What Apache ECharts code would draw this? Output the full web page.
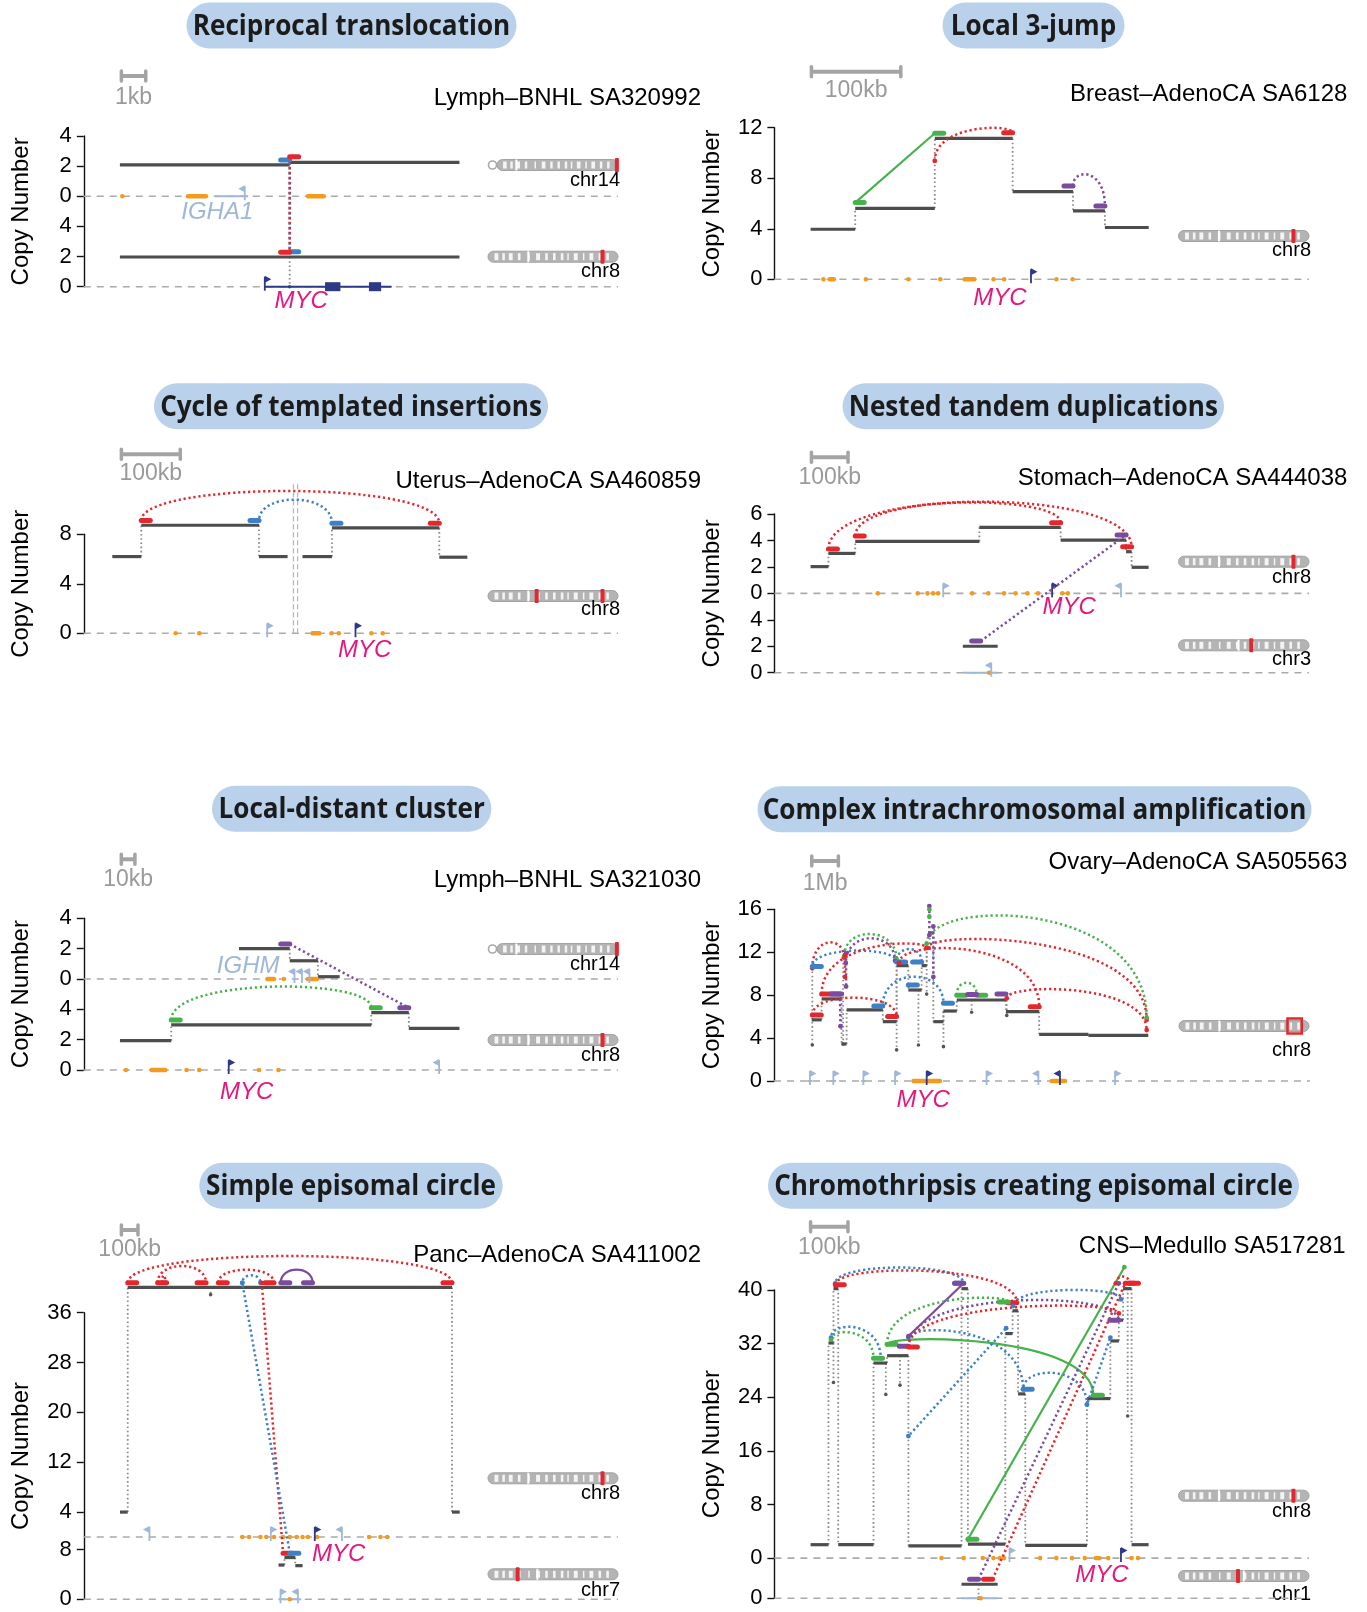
<!DOCTYPE html>
<html>
<head>
<meta charset="utf-8">
<script src="https://cdn.jsdelivr.net/npm/echarts@6/dist/echarts.min.js"></script>
<style>
html,body{margin:0;padding:0;background:#fff}
#chart{width:1367px;height:1612px}
</style>
</head>
<body>
<div id="chart"></div>
<script>
// ---------------- data ----------------
// Each row: [track, start, end, copy number]; positions in kb (Mb for the amplification panel).
// Links: [trackA, posA, cnA, sideA, trackB, posB, cnB, sideB, arcPeakCN | null, junction type]

// Reciprocal translocation (kb)
const recipSegments = [['chr14', 1.48, 8.44, 2.08], ['chr14', 8.44, 15.40, 2.25], ['chr8', 1.48, 15.40, 1.97]];
const recipLinks = [
  ['chr14', 8.44, 2.40, -1, 'chr8', 8.44, 2.32, 1, null, 'DEL'],
  ['chr14', 8.44, 2.63, 1, 'chr8', 8.44, 2.28, -1, null, 'DUP']
];
const recipDrops = [['chr8', 8.44, 1.97, 0]];
const recipMarks = [['chr14', 1.58, 1.58], ['chr14', 4.27, 5.01], ['chr14', 9.19, 9.84]];
const recipBodies = [['chr14', 5.38, 6.74, 'light'], ['chr8', 7.42, 12.62, 'navy']];
const recipExons = [['chr8', 9.89, 10.52], ['chr8', 11.69, 12.19]];
const recipTss = [['chr14', 6.6, -1, 'light'], ['chr8', 7.42, 1, 'navy']];
const recipGenes = [['chr14', 5.47, 'IGHA1'], ['chr8', 8.91, 'MYC']];
const recipScale = [1.54, 1, '1kb'];
const recipIdeoMarks = {chr14: [106], chr8: [127.7]};

// Local 3-jump (kb)
const jumpSegments = [['chr8', 40.5, 90.4, 3.96], ['chr8', 90.4, 179.4, 5.62], ['chr8', 179.4, 266.5, 11.15],
  ['chr8', 266.5, 334.0, 6.94], ['chr8', 334.0, 369.7, 5.41], ['chr8', 369.7, 418.7, 4.10]];
const jumpLinks = [
  ['chr8', 90.4, 6.07, 1, 'chr8', 179.4, 11.56, 1, null, 'H2H'],
  ['chr8', 179.4, 9.37, 0, 'chr8', 266.5, 11.6, -1, 11.85, 'DUP'],
  ['chr8', 334.0, 7.39, -1, 'chr8', 369.7, 5.8, -1, 8.26, 'T2T']
];
const jumpMarks = [['chr8', 54.8, 54.8], ['chr8', 61.9, 66.6], ['chr8', 102.3, 102.3], ['chr8', 149.9, 149.9],
  ['chr8', 185.6, 185.6], ['chr8', 212.7, 223.7], ['chr8', 245.1, 245.1], ['chr8', 257, 257],
  ['chr8', 315.5, 315.5], ['chr8', 333.6, 333.6]];
const jumpTss = [['chr8', 287, 1, 'navy']];
const jumpGenes = [['chr8', 252.2, 'MYC']];
const jumpScale = [41.4, 100, '100kb'];
const jumpIdeoMarks = {chr8: [127.7]};

// Cycle of templated insertions (kb)
const cycleSegments = [['chr8', 48.4, 97.6, 6.2], ['chr8', 97.6, 297.5, 8.73], ['chr8', 297.5, 346.0, 6.2],
  ['chr8', 371.3, 421.3, 6.2], ['chr8', 421.3, 603.6, 8.52], ['chr8', 603.6, 651.2, 6.15]];
const cycleLinks = [
  ['chr8', 97.6, 9.11, 1, 'chr8', 603.6, 8.9, -1, 11.5, 'DUP'],
  ['chr8', 297.5, 9.11, -1, 'chr8', 421.3, 8.9, 1, 10.8, 'DEL']
];
const cycleGuides = [356, 363];
const cycleMarks = [['chr8', 156, 156], ['chr8', 196, 196], ['chr8', 388.3, 399.8], ['chr8', 420.6, 420.6],
  ['chr8', 432.9, 432.9], ['chr8', 488.2, 488.2], ['chr8', 507.5, 507.5]];
const cycleTss = [['chr8', 311.4, 1, 'light'], ['chr8', 461.3, 1, 'navy']];
const cycleGenes = [['chr8', 476.7, 'MYC']];
const cycleScale = [63.8, 100, '100kb'];
const cycleIdeoMarks = {chr8: [54.3, 127.7]};

// Nested tandem duplications (kb)
const nestedSegments = [['chr8', 98.9, 147.7, 2.02], ['chr8', 147.7, 220.9, 3.02], ['chr8', 220.9, 560.2, 3.93],
  ['chr8', 560.2, 782.2, 4.99], ['chr8', 782.2, 961.1, 4.03], ['chr8', 961.1, 976.2, 3.15],
  ['chr8', 976.2, 1022.7, 1.97], ['chr3', 514.9, 610.2, 2.0]];
const nestedLinks = [
  ['chr8', 147.7, 3.35, 1, 'chr8', 976.2, 3.53, -1, 6.93, 'DUP'],
  ['chr8', 220.9, 4.34, 1, 'chr8', 782.2, 5.34, -1, 6.86, 'DUP'],
  ['chr3', 563.7, 2.39, -1, 'chr8', 961.1, 4.41, -1, null, 'T2T']
];
const nestedMarks = [['chr8', 282.5, 282.5], ['chr8', 391.7, 391.7], ['chr8', 418.4, 418.4], ['chr8', 433.5, 433.5],
  ['chr8', 447.5, 447.5], ['chr8', 540.5, 540.5], ['chr8', 584.6, 584.6], ['chr8', 627.6, 627.6],
  ['chr8', 659, 659], ['chr8', 691.5, 691.5], ['chr8', 720.6, 720.6], ['chr8', 786.8, 786.8],
  ['chr8', 802, 802], ['chr3', 587, 587]];
const nestedBodies = [['chr3', 514.9, 610.2, 'light']];
const nestedTss = [['chr8', 461.4, 1, 'light'], ['chr8', 947.2, -1, 'light'], ['chr8', 759, 1, 'navy'], ['chr3', 592.7, -1, 'light']];
const nestedGenes = [['chr8', 805.4, 'MYC']];
const nestedScale = [101.2, 100, '100kb'];
const nestedIdeoMarks = {chr8: [127.7], chr3: [110.4]};

// Local-distant cluster (kb)
const clusterSegments = [['chr14', 114.2, 151.5, 2.0], ['chr14', 151.5, 172.2, 1.2], ['chr14', 172.2, 188.2, 0.15],
  ['chr8', 26.6, 64.3, 1.93], ['chr8', 64.3, 211.5, 2.97], ['chr8', 211.5, 239.1, 3.78], ['chr8', 239.1, 276.4, 2.75]];
const clusterLinks = [
  ['chr14', 151.5, 2.3, -1, 'chr8', 239.1, 4.1, -1, null, 'T2T'],
  ['chr8', 64.3, 3.3, 1, 'chr8', 211.5, 4.1, 1, 5.49, 'H2H']
];
const clusterMarks = [['chr14', 135, 140], ['chr14', 147.2, 147.2], ['chr14', 164.8, 171.5],
  ['chr8', 31, 31], ['chr8', 49.9, 59.9], ['chr8', 75.6, 75.6], ['chr8', 84.9, 84.9], ['chr8', 128.9, 128.9], ['chr8', 143.2, 143.2]];
const clusterTss = [['chr14', 155, -1, 'light'], ['chr14', 160.5, -1, 'light'], ['chr14', 166, -1, 'light'],
  ['chr8', 106.6, 1, 'navy'], ['chr8', 261.4, -1, 'light']];
const clusterGenes = [['chr14', 120.9, 'IGHM'], ['chr8', 119.9, 'MYC']];
const clusterScale = [27.6, 10, '10kb'];
const clusterIdeoMarks = {chr14: [106], chr8: [127.7]};

// Complex intrachromosomal amplification (Mb)
const complexSegments = [['chr8', 1.42, 1.79, 5.7], ['chr8', 1.79, 2.54, 7.65], ['chr8', 2.54, 2.73, 3.45],
  ['chr8', 2.73, 4.09, 6.62], ['chr8', 4.09, 4.61, 5.53], ['chr8', 4.61, 5.05, 10.75], ['chr8', 5.05, 5.55, 8.48],
  ['chr8', 5.55, 5.74, 10.75], ['chr8', 5.74, 5.86, 12.4], ['chr8', 5.86, 5.99, 13.8], ['chr8', 5.99, 6.37, 5.53],
  ['chr8', 6.37, 6.87, 6.52], ['chr8', 6.87, 8.72, 7.55], ['chr8', 8.72, 9.97, 6.46], ['chr8', 9.97, 11.82, 4.35],
  ['chr8', 11.82, 14.07, 4.26]];
const complexLinks = [
  ['chr8', 1.44, 10.5, 0, 'chr8', 2.63, 11.5, 0, 12.9, 'DUP'],
  ['chr8', 1.44, 10.66, 1, 'chr8', 4.61, 11.1, 0, 12.15, 'DEL'],
  ['chr8', 2.65, 11.7, 0, 'chr8', 4.61, 11.3, 0, 13.7, 'H2H'],
  ['chr8', 2.70, 11.0, 0, 'chr8', 4.55, 11.2, 0, 13.3, 'T2T'],
  ['chr8', 1.79, 8.1, 1, 'chr8', 5.74, 12.4, 0, 12.5, 'DUP'],
  ['chr8', 1.44, 6.15, 1, 'chr8', 4.61, 6.0, -1, 7.77, 'DUP'],
  ['chr8', 4.09, 7.0, -1, 'chr8', 6.37, 7.24, 1, 9.72, 'DEL'],
  ['chr8', 4.61, 11.1, 1, 'chr8', 5.55, 11.1, -1, 12.3, 'DEL'],
  ['chr8', 4.70, 11.0, 0, 'chr8', 9.97, 6.93, -1, 12.2, 'DUP'],
  ['chr8', 5.74, 12.4, 0, 'chr8', 14.01, 5.7, 0, 12.77, 'DUP'],
  ['chr8', 8.75, 7.7, 0, 'chr8', 14.01, 4.75, 0, 8.42, 'DUP'],
  ['chr8', 5.74, 12.8, 0, 'chr8', 14.01, 5.9, 0, 15.13, 'H2H'],
  ['chr8', 6.87, 8.0, 1, 'chr8', 7.62, 8.0, 1, 9.16, 'H2H'],
  ['chr8', 2.48, 8.1, -1, 'chr8', 2.50, 5.1, 0, null, 'T2T'],
  ['chr8', 2.71, 11.9, 0, 'chr8', 2.71, 8.8, 0, null, 'T2T'],
  ['chr8', 2.67, 11.7, 0, 'chr8', 2.67, 9.7, 0, null, 'DUP'],
  ['chr8', 5.84, 16.3, 0, 'chr8', 5.84, 13.6, 0, null, 'T2T'],
  ['chr8', 5.99, 14.4, 0, 'chr8', 5.99, 9.7, 0, null, 'T2T'],
  ['chr8', 5.84, 16.0, 0, 'chr8', 5.84, 15.3, 0, null, 'H2H']
];
const complexLone = [['chr8', 7.62, 8.05, -1, 'T2T'], ['chr8', 8.72, 8.1, -1, 'T2T'],
  ['chr8', 5.05, 8.95, 1, 'DEL'], ['chr8', 2.54, 8.1, -1, 'T2T']];
const complexDrops = [['chr8', 1.44, 10.6, 3.35], ['chr8', 2.6, 11.0, 3.45], ['chr8', 4.61, 10.75, 2.9],
  ['chr8', 5.43, 8.48, 3.35], ['chr8', 6.37, 6.52, 3.2], ['chr8', 7.43, 7.55, 6.4], ['chr8', 8.75, 7.55, 6.1],
  ['chr8', 5.74, 12.4, 8.1]];
const complexMarks = [['chr8', 5.24, 6.24], ['chr8', 10.44, 10.94]];
const complexBodies = [['chr8', 1.25, 1.45, 'light'], ['chr8', 2.12, 2.33, 'light'], ['chr8', 3.28, 3.45, 'light'],
  ['chr8', 7.85, 8.1, 'light'], ['chr8', 9.82, 10.05, 'light'], ['chr8', 12.72, 12.9, 'light']];
const complexTss = [['chr8', 1.35, 1, 'light'], ['chr8', 2.23, 1, 'light'], ['chr8', 3.36, 1, 'light'],
  ['chr8', 4.55, 1, 'light'], ['chr8', 7.99, 1, 'light'], ['chr8', 9.94, -1, 'light'], ['chr8', 12.82, 1, 'light'],
  ['chr8', 5.74, 1, 'navy'], ['chr8', 10.75, -1, 'navy']];
const complexGenes = [['chr8', 5.61, 'MYC']];
const complexScale = [1.42, 1, '1Mb'];
const complexIdeoBox = {chr8: [121, 137]};

// Simple episomal circle (kb)
const episomeSegments = [['chr8', 218.2, 264.6, 4.0], ['chr8', 264.6, 2218, 40.05], ['chr8', 2218, 2264.4, 4.0],
  ['chr7', 1173, 1208.5, 5.5], ['chr7', 1208.5, 1274, 6.7], ['chr7', 1274, 1318, 5.4]];
const episomeLinks = [
  ['chr8', 264.6, 40.8, 1, 'chr8', 2218, 40.8, -1, 45.1, 'DUP'],
  ['chr8', 444.6, 40.8, 1, 'chr8', 736.6, 40.8, -1, 43.5, 'DUP'],
  ['chr8', 472, 40.8, 0, 'chr8', 491, 40.8, 0, 42.0, 'DUP'],
  ['chr8', 810.2, 40.8, 1, 'chr8', 1145.8, 40.8, -1, 42.9, 'DUP'],
  ['chr8', 954.8, 40.8, 0, 'chr8', 1064, 40.8, 0, 42.0, 'DEL'],
  ['chr8', 1186.8, 40.8, 1, 'chr8', 1377.7, 40.8, -1, 42.9, 'T2T'],
  ['chr8', 1072, 40.8, 0, 'chr7', 1200.4, 7.4, 1, null, 'DUP'],
  ['chr8', 954.8, 40.8, 0, 'chr7', 1241.3, 7.4, 1, null, 'DEL']
];
const episomeDrops = [['chr8', 763.9, 40.05, 38.9]];
const episomeMarks = [['chr8', 954.8, 954.8], ['chr8', 995.8, 995.8], ['chr8', 1064, 1064], ['chr8', 1099.4, 1099.4],
  ['chr8', 1145.8, 1145.8], ['chr8', 1200.4, 1200.4], ['chr8', 1241.3, 1241.3], ['chr8', 1282.3, 1282.3],
  ['chr8', 1317.7, 1317.7], ['chr8', 1350.4, 1350.4], ['chr8', 1405, 1405], ['chr8', 1718.8, 1718.8],
  ['chr8', 1787, 1787], ['chr8', 1827.9, 1827.9], ['chr7', 1241.3, 1241.3]];
const episomeBodies = [['chr7', 1173, 1310, 'light']];
const episomeTss = [['chr8', 395.5, -1, 'light'], ['chr8', 1126.7, 1, 'light'], ['chr8', 1555, -1, 'light'],
  ['chr8', 1391.4, 1, 'navy'], ['chr7', 1185, 1, 'light'], ['chr7', 1290, -1, 'light']];
const episomeGenes = [['chr8', 1536, 'MYC']];
const episomeScale = [226.4, 100, '100kb'];
const episomeIdeoMarks = {chr8: [127.7], chr7: [36.3]};

// Chromothripsis creating episomal circle (kb)
const chromoSegments = [['chr8', 96.8, 144.6, 2.0], ['chr8', 144.6, 158, 32.1], ['chr8', 158, 170.7, 40.2],
  ['chr8', 170.7, 265.1, 2.0], ['chr8', 265.1, 301.5, 29.1], ['chr8', 301.5, 358.4, 30.2],
  ['chr8', 358.4, 500.5, 1.83], ['chr8', 500.5, 517.6, 40.2], ['chr8', 517.6, 617.7, 2.08],
  ['chr8', 617.7, 637, 33.5], ['chr8', 637, 651.8, 36.9], ['chr8', 651.8, 671.1, 24.5],
  ['chr8', 671.1, 836, 1.9], ['chr8', 836, 898.6, 23.8], ['chr8', 898.6, 921.3, 32.4],
  ['chr8', 921.3, 932.7, 35.5], ['chr8', 932.7, 955.4, 40.2], ['chr8', 955.4, 1000.9, 2.0],
  ['chr1', 500.5, 597.2, 2.1]];
const chromoLinks = [
  ['chr8', 162.8, 41.0, 0, 'chr8', 506.2, 41.0, -1, 43.35, 'DEL'],
  ['chr8', 162.8, 40.8, 1, 'chr8', 648.4, 38.1, -1, 42.85, 'DUP'],
  ['chr8', 151.4, 32.9, 0, 'chr8', 284.4, 29.8, 0, 34.4, 'DEL'],
  ['chr8', 151.4, 32.6, 0, 'chr8', 265.1, 29.8, 1, 33.6, 'H2H'],
  ['chr8', 358.4, 32.9, 0, 'chr8', 665.4, 25.2, 1, 33.5, 'DEL'],
  ['chr8', 665.4, 25.2, 0, 'chr8', 836, 22.9, 0, 27.6, 'DEL'],
  ['chr8', 301.5, 31.9, 1, 'chr8', 853.1, 24.3, 1, 32.1, 'H2H'],
  ['chr8', 358.4, 33.1, 0, 'chr8', 506.2, 41.0, -1, null, 'T2T'],
  ['chr8', 301.5, 31.9, 0, 'chr8', 625.6, 38.2, -1, 38.4, 'H2H'],
  ['chr8', 358.4, 31.6, -1, 'chr8', 921.3, 35.5, -1, 38.4, 'T2T'],
  ['chr8', 358.4, 31.5, 1, 'chr8', 921.3, 36.5, 0, 37.4, 'DUP'],
  ['chr8', 358.4, 18.2, 0, 'chr8', 619.9, 34.3, 0, null, 'DEL'],
  ['chr8', 638.1, 37.6, 0, 'chr8', 927, 38.6, 0, 40.0, 'DEL'],
  ['chr8', 836, 22.9, 0, 'chr8', 898.6, 32.9, 0, null, 'DEL'],
  ['chr8', 517.6, 2.8, 1, 'chr8', 936.1, 43.4, 0, null, 'H2H'],
  ['chr1', 546, 2.84, -1, 'chr8', 921.3, 41.0, 0, null, 'T2T'],
  ['chr1', 583.5, 2.84, -1, 'chr8', 938.4, 41.0, 1, null, 'DUP'],
  ['chr8', 913.4, 41.0, 0, 'chr8', 949.7, 41.0, 1, 42.0, 'DUP']
];
const chromoDrops = [['chr8', 158, 32.1, 26.2], ['chr8', 298, 29.1, 24.4], ['chr8', 336, 30.2, 25.8],
  ['chr8', 945, 40.2, 21.2], ['chr1', 546, 2.1, 0]];
const chromoMarks = [['chr8', 447, 447], ['chr8', 506.2, 506.2], ['chr8', 557.4, 557.4], ['chr8', 585.8, 585.8],
  ['chr8', 602.9, 602.9], ['chr8', 614.3, 614.3], ['chr8', 710.9, 710.9], ['chr8', 754.1, 754.1],
  ['chr8', 796.2, 796.2], ['chr8', 830.3, 830.3], ['chr8', 858.8, 870.2], ['chr8', 892.9, 892.9],
  ['chr8', 955.4, 955.4], ['chr8', 972.5, 972.5], ['chr1', 551.7, 551.7]];
const chromoBodies = [['chr1', 500.5, 597.2, 'light']];
const chromoTss = [['chr8', 629, 1, 'light'], ['chr8', 927, 1, 'navy']];
const chromoGenes = [['chr8', 875.8, 'MYC']];
const chromoScale = [96.8, 100, '100kb'];
const chromoIdeoMarks = {chr8: [127.7], chr1: [113.5]};

// ---------------- styling ----------------
const SV_COLORS = {DUP: '#e3272c', DEL: '#3d80c6', H2H: '#47b24b', T2T: '#7a4b9e'};
const GENE_COLORS = {navy: '#2d3886', light: '#9fb7d9'};
const MARK_COLOR = '#f39b1f';
const FONT = '"Liberation Sans", Arial, sans-serif';
const CHROM_MB = {chr1: 249, chr3: 198, chr7: 159, chr8: 145, chr14: 107};
const CENTRO = {chr1: 0.5, chr3: 0.46, chr7: 0.38, chr8: 0.31, chr14: 0.16};
const BANDS = [[.05, .08], [.11, .13], [.16, .19], [.23, .25], [.31, .32], [.37, .40], [.44, .46], [.50, .52],
  [.56, .58], [.61, .62], [.66, .69], [.73, .74], [.78, .81], [.85, .87], [.91, .93]];

const panels = [
  {title: 'Reciprocal translocation', pill: [351.5, 25.5, 330], sample: 'Lymph–BNHL SA320992', sampleAt: [701, 98],
   grid: {left: 83.8, top: 136, width: 534.2, height: 150.7}, xMax: 21.9, yMax: 10,
   ticks: [0, 2, 4, 6, 8, 10], tickText: ['0', '2', '4', '0', '2', '4'], tracks: {chr14: 6, chr8: 0},
   segments: recipSegments, links: recipLinks, drops: recipDrops, marks: recipMarks, bodies: recipBodies,
   exons: recipExons, tss: recipTss, genes: recipGenes, labelDy: {IGHA1: 16, MYC: 15},
   scale: recipScale, scaleY: [76, 97.3], solid: [],
   ideograms: [['chr14', 488, 618, 165, 180], ['chr8', 488, 618, 256.7, 271.7]], ideoMarks: recipIdeoMarks},
  {title: 'Local 3-jump', pill: [1033.5, 25.5, 182], sample: 'Breast–AdenoCA SA6128', sampleAt: [1347.4, 94],
   grid: {left: 774.4, top: 127.7, width: 534.6, height: 151.6}, xMax: 598, yMax: 12,
   ticks: [0, 4, 8, 12], tickText: ['0', '4', '8', '12'], tracks: {chr8: 0},
   segments: jumpSegments, links: jumpLinks, marks: jumpMarks, tss: jumpTss, genes: jumpGenes, labelDy: {MYC: 19},
   scale: jumpScale, scaleY: [71.7, 90.7], solid: [0],
   ideograms: [['chr8', 1178.5, 1309, 236, 250.7]], ideoMarks: jumpIdeoMarks},
  {title: 'Cycle of templated insertions', pill: [351, 406.3, 394], sample: 'Uterus–AdenoCA SA460859', sampleAt: [701, 481.7],
   grid: {left: 83.8, top: 534.3, width: 534.2, height: 99}, xMax: 907, yMax: 8,
   ticks: [0, 4, 8], tickText: ['0', '4', '8'], tracks: {chr8: 0}, guides: cycleGuides, guideTop: 12.1,
   segments: cycleSegments, links: cycleLinks, marks: cycleMarks, tss: cycleTss, genes: cycleGenes, labelDy: {MYC: 17},
   scale: cycleScale, scaleY: [454.3, 473.3], solid: [],
   ideograms: [['chr8', 488, 618, 596, 609.3]], ideoMarks: cycleIdeoMarks},
  {title: 'Nested tandem duplications', pill: [1033.3, 406.3, 381.5], sample: 'Stomach–AdenoCA SA444038', sampleAt: [1347.4, 478.3],
   grid: {left: 774.4, top: 514, width: 534.6, height: 158.7}, xMax: 1461, yMax: 12,
   ticks: [0, 2, 4, 6, 8, 10, 12], tickText: ['0', '2', '4', '0', '2', '4', '6'], tracks: {chr8: 6, chr3: 0},
   segments: nestedSegments, links: nestedLinks, marks: nestedMarks, bodies: nestedBodies, tss: nestedTss,
   genes: nestedGenes, labelDy: {MYC: 14}, scale: nestedScale, scaleY: [457.3, 477.3], solid: [],
   ideograms: [['chr8', 1178.5, 1309, 561.7, 577.3], ['chr3', 1178.5, 1309, 645.3, 659.3]], ideoMarks: nestedIdeoMarks},
  {title: 'Local-distant cluster', pill: [351.7, 808.8, 279.4], sample: 'Lymph–BNHL SA321030', sampleAt: [701, 880],
   grid: {left: 83.8, top: 918.3, width: 534.2, height: 151.7}, xMax: 393, yMax: 10,
   ticks: [0, 2, 4, 6, 8, 10], tickText: ['0', '2', '4', '0', '2', '4'], tracks: {chr14: 6, chr8: 0},
   segments: clusterSegments, links: clusterLinks, marks: clusterMarks, tss: clusterTss, genes: clusterGenes,
   labelDy: {MYC: 22, IGHM: -13}, scale: clusterScale, scaleY: [859.3, 879.3], solid: [],
   ideograms: [['chr14', 488, 618, 949, 964], ['chr8', 488, 618, 1040, 1055]], ideoMarks: clusterIdeoMarks},
  {title: 'Complex intrachromosomal amplification', pill: [1034.5, 809.3, 554], sample: 'Ovary–AdenoCA SA505563', sampleAt: [1347.4, 862],
   grid: {left: 774, top: 909.3, width: 536, height: 171.7}, xMax: 20.15, yMax: 16,
   ticks: [0, 4, 8, 12, 16], tickText: ['0', '4', '8', '12', '16'], tracks: {chr8: 0},
   segments: complexSegments, links: complexLinks, lone: complexLone, drops: complexDrops, marks: complexMarks,
   bodies: complexBodies, tss: complexTss, genes: complexGenes, labelDy: {MYC: 19},
   scale: complexScale, scaleY: [861, 883.3], solid: [],
   ideograms: [['chr8', 1179, 1309, 1026, 1050]], ideoMarks: {}, ideoBoxes: complexIdeoBox},
  {title: 'Simple episomal circle', pill: [351, 1185.8, 303.4], sample: 'Panc–AdenoCA SA411002', sampleAt: [701, 1255],
   grid: {left: 83.8, top: 1312.7, width: 534.2, height: 286.6}, xMax: 3218, yMax: 46,
   ticks: [0, 8, 14, 22, 30, 38, 46], tickText: ['0', '8', '4', '12', '20', '28', '36'], tracks: {chr8: 10, chr7: 0},
   segments: episomeSegments, links: episomeLinks, drops: episomeDrops, marks: episomeMarks, bodies: episomeBodies,
   tss: episomeTss, genes: episomeGenes, labelDy: {MYC: 17}, scale: episomeScale, scaleY: [1230, 1250], solid: [5],
   ideograms: [['chr8', 488, 618, 1478.3, 1493.3], ['chr7', 488, 618, 1574.3, 1590]], ideoMarks: episomeIdeoMarks},
  {title: 'Chromothripsis creating episomal circle', pill: [1033.5, 1185.8, 531], sample: 'CNS–Medullo SA517281', sampleAt: [1345.7, 1246],
   grid: {left: 774.4, top: 1290, width: 534.6, height: 308.3}, xMax: 1430, yMax: 46,
   ticks: [0, 6, 14, 22, 30, 38, 46], tickText: ['0', '0', '8', '16', '24', '32', '40'], tracks: {chr8: 6, chr1: 0},
   segments: chromoSegments, links: chromoLinks, drops: chromoDrops, marks: chromoMarks, bodies: chromoBodies,
   tss: chromoTss, genes: chromoGenes, labelDy: {MYC: 17}, scale: chromoScale, scaleY: [1226.7, 1247.3], solid: [6, 7, 14],
   ideograms: [['chr8', 1178.5, 1309, 1495.7, 1511.7], ['chr1', 1178.5, 1309, 1576, 1594]], ideoMarks: chromoIdeoMarks}
];

// ---------------- series builders ----------------
const DOT_GRAY = {stroke: '#8a8a8a', lineWidth: 1.8, lineDash: [1.6, 2.6]};

function buildSeries(i, P) {
  const off = t => P.tracks[t];
  const out = [];
  const add = (items, z, draw) => {
    if (!items || !items.length) return;
    out.push({
      type: 'custom', xAxisIndex: i, yAxisIndex: i, silent: true, animation: false, clip: false, z: z,
      data: items.map((_, k) => [k, 0]),
      renderItem: (params, api) => draw(items[params.dataIndex], api, params.dataIndex)
    });
  };
  const pt = (api, t, x, cn) => api.coord([x, cn + off(t)]);
  const line = (a, b, style) => ({type: 'line', shape: {x1: a[0], y1: a[1], x2: b[0], y2: b[1]}, style: style});

  // dashed genome baseline of every track
  add(Object.keys(P.tracks), 1, (t, api) =>
    line(pt(api, t, 0, 0), pt(api, t, P.xMax, 0), {stroke: '#ababab', lineWidth: 1.6, lineDash: [7, 6]}));

  // double guide lines
  add(P.guides, 1, (x, api) =>
    line(api.coord([x, 0]), api.coord([x, P.guideTop]), {stroke: '#b8b8b8', lineWidth: 1.3, lineDash: [5, 3]}));

  // dotted joins between adjacent copy-number segments
  const joins = [];
  const byTrack = {};
  P.segments.forEach(s => (byTrack[s[0]] = byTrack[s[0]] || []).push(s));
  Object.values(byTrack).forEach(list => {
    list.sort((a, b) => a[1] - b[1]);
    for (let k = 1; k < list.length; k++) {
      if (Math.abs(list[k - 1][2] - list[k][1]) < 1e-6) joins.push([list[k][0], list[k][1], list[k - 1][3], list[k][3]]);
    }
  });
  add(joins, 2, (j, api) => line(pt(api, j[0], j[1], j[2]), pt(api, j[0], j[1], j[3]), DOT_GRAY));
  add(P.drops, 2, (d, api) => {
    const a = pt(api, d[0], d[1], d[2]), b = pt(api, d[0], d[1], d[3]);
    return {type: 'group', children: [line(a, b, DOT_GRAY),
      {type: 'circle', shape: {cx: b[0], cy: b[1], r: 1.8}, style: {fill: '#555'}}]};
  });

  // copy-number segments
  add(P.segments, 3, (s, api) =>
    line(pt(api, s[0], s[1], s[3]), pt(api, s[0], s[2], s[3]), {stroke: '#4d4d4d', lineWidth: 3.2}));

  // gene annotations on the baselines
  add(P.bodies, 3, (g, api) =>
    line(pt(api, g[0], g[1], 0), pt(api, g[0], g[2], 0), {stroke: GENE_COLORS[g[3]], lineWidth: 2}));
  add(P.exons, 3, (e, api) => {
    const a = pt(api, e[0], e[1], 0), b = pt(api, e[0], e[2], 0);
    return {type: 'rect', shape: {x: a[0], y: a[1] - 4.5, width: b[0] - a[0], height: 9}, style: {fill: GENE_COLORS.navy}};
  });
  add(P.marks, 4, (m, api) => {
    const a = pt(api, m[0], m[1], 0), b = pt(api, m[0], m[2], 0);
    if (b[0] - a[0] < 1) return {type: 'circle', shape: {cx: a[0], cy: a[1], r: 2.3}, style: {fill: MARK_COLOR}};
    return line(a, b, {stroke: MARK_COLOR, lineWidth: 4.4, lineCap: 'round'});
  });
  add(P.tss, 4, (f, api) => {
    const p = pt(api, f[0], f[1], 0), c = GENE_COLORS[f[3]], d = f[2];
    return {type: 'group', children: [
      line([p[0], p[1] + 4], [p[0], p[1] - 10], {stroke: c, lineWidth: 1.8}),
      {type: 'polygon', shape: {points: [[p[0], p[1] - 11], [p[0] + d * 6.5, p[1] - 7.5], [p[0], p[1] - 4]]}, style: {fill: c}}
    ]};
  });
  add(P.genes, 4, (g, api) => {
    const p = pt(api, g[0], g[1], 0);
    return {type: 'text', style: {text: g[2], x: p[0], y: p[1] + (P.labelDy[g[2]] || 17),
      fill: g[2] === 'MYC' ? '#e5187d' : GENE_COLORS.light, font: 'italic 24px ' + FONT,
      textAlign: 'center', textVerticalAlign: 'middle'}};
  });

  // structural-variant links
  add(P.links, 5, (L, api, idx) => {
    const ua = L[2] + off(L[0]), ub = L[6] + off(L[4]);
    const A = api.coord([L[1], ua]), B = api.coord([L[5], ub]);
    const solid = P.solid.indexOf(idx) >= 0;
    const style = {stroke: SV_COLORS[L[9]], fill: 'none', lineWidth: solid ? 2.2 : 2.5,
      lineDash: solid ? null : [2.2, 2.8], lineDashOffset: L[9] === 'DEL' ? 2.5 : 0};
    if (L[8] == null) return line(A, B, style);
    const peak = L[8] + off(L[0]);
    const c = (4 * peak - (ua + ub) / 2) / 3;
    const CA = api.coord([L[1], c]), CB = api.coord([L[5], c]);
    return {type: 'bezierCurve', shape: {x1: A[0], y1: A[1], x2: B[0], y2: B[1],
      cpx1: CA[0], cpy1: CA[1], cpx2: CB[0], cpy2: CB[1]}, style: style};
  });

  // junction ends
  const ends = [];
  P.links.forEach(L => { ends.push([L[0], L[1], L[2], L[3], L[9]]); ends.push([L[4], L[5], L[6], L[7], L[9]]); });
  (P.lone || []).forEach(j => ends.push(j));
  add(ends, 6, (e, api) => {
    const p = pt(api, e[0], e[1], e[2]), c = SV_COLORS[e[4]];
    if (!e[3]) return {type: 'circle', shape: {cx: p[0], cy: p[1], r: 2.4}, style: {fill: c}};
    return line(p, [p[0] + e[3] * 9, p[1]], {stroke: c, lineWidth: 5, lineCap: 'round'});
  });

  // scale bar
  add([P.scale], 2, (S, api) => {
    const a = api.coord([S[0], 0]), b = api.coord([S[0] + S[1], 0]);
    const y = P.scaleY[0], col = '#a4a4a4';
    return {type: 'group', children: [
      line([a[0], y], [b[0], y], {stroke: col, lineWidth: 4}),
      line([a[0], y - 5], [a[0], y + 5], {stroke: col, lineWidth: 3.5, lineCap: 'round'}),
      line([b[0], y - 5], [b[0], y + 5], {stroke: col, lineWidth: 3.5, lineCap: 'round'}),
      {type: 'text', style: {text: S[2], x: (a[0] + b[0]) / 2, y: P.scaleY[1], fill: '#9a9a9a',
        font: '23px ' + FONT, textAlign: 'center', textVerticalAlign: 'middle'}}
    ]};
  });
  return out;
}

// ---------------- chromosome ideograms and titles ----------------
function ideogram(chrom, x0, x1, cy, marks, box) {
  const els = [], h = 11;
  let bx = x0;
  if (chrom === 'chr14') {
    els.push({type: 'circle', shape: {cx: x0 + 4.5, cy: cy, r: 4}, style: {fill: '#fff', stroke: '#a9a9a9', lineWidth: 1.6}});
    bx = x0 + 9;
  }
  const w = x1 - bx;
  els.push({type: 'rect', shape: {x: bx, y: cy - h / 2, width: w, height: h, r: h / 2}, style: {fill: '#b4b4b4', stroke: '#a2a2a2', lineWidth: 1}});
  BANDS.forEach(([a, b]) => els.push({type: 'rect',
    shape: {x: bx + a * w, y: cy - h / 2 + 2, width: Math.max(1.5, (b - a) * w), height: h - 4}, style: {fill: '#f4f4f4'}}));
  const cx = bx + CENTRO[chrom] * w;
  els.push({type: 'rect', shape: {x: cx - 1, y: cy - h / 2, width: 2, height: h}, style: {fill: '#fff'}});
  marks.forEach(mb => {
    const x = bx + mb / CHROM_MB[chrom] * w;
    els.push({type: 'rect', shape: {x: x - 2, y: cy - h / 2 - 1.5, width: 4, height: h + 3, r: 1}, style: {fill: '#e3272c'}});
  });
  if (box) {
    const xa = bx + box[0] / CHROM_MB[chrom] * w, xb = bx + box[1] / CHROM_MB[chrom] * w;
    els.push({type: 'rect', shape: {x: xa, y: cy - h / 2 - 2, width: xb - xa, height: h + 4},
      style: {fill: 'none', stroke: '#e3272c', lineWidth: 2.5}});
  }
  return els;
}

const graphics = [];
panels.forEach(P => {
  const [cx, cy, w] = P.pill;
  graphics.push({type: 'rect', shape: {x: cx - w / 2, y: cy - 23, width: w, height: 46, r: 23}, style: {fill: '#b9d1ea'}});
  // condensed bold title: horizontal squeeze around the pill centre
  graphics.push({type: 'text', x: cx, y: cy + 1, scaleX: 0.9, scaleY: 1,
    style: {text: P.title, x: 0, y: 0, fill: '#1b1b1b',
      font: 'bold 29px "Open Sans", sans-serif', textAlign: 'center', textVerticalAlign: 'middle'}});
  graphics.push({type: 'text', style: {text: P.sample, x: P.sampleAt[0], y: P.sampleAt[1], fill: '#000',
    font: '24px ' + FONT, textAlign: 'right', textVerticalAlign: 'middle'}});
  P.ideograms.forEach(([chrom, x0, x1, y, ly]) => {
    ideogram(chrom, x0, x1, y, P.ideoMarks[chrom] || [], (P.ideoBoxes || {})[chrom]).forEach(e => graphics.push(e));
    graphics.push({type: 'text', style: {text: chrom, x: x1 + 2, y: ly, fill: '#000', font: '20px ' + FONT,
      textAlign: 'right', textVerticalAlign: 'middle'}});
  });
});

// ---------------- chart ----------------
const chart = echarts.init(document.getElementById('chart'), null, {renderer: 'canvas', width: 1367, height: 1612});
const option = {
  backgroundColor: '#fff',
  animation: false,
  grid: panels.map(P => Object.assign({outerBoundsMode: 'none'}, P.grid)),
  xAxis: panels.map((P, i) => ({gridIndex: i, type: 'value', min: 0, max: P.xMax, show: false})),
  yAxis: panels.map((P, i) => ({
    gridIndex: i, type: 'value', min: 0, max: P.yMax,
    name: 'Copy Number', nameLocation: 'middle', nameGap: 50,
    nameTextStyle: {fontSize: 24, color: '#000', fontFamily: FONT},
    axisLine: {show: true, onZero: false, lineStyle: {color: '#111', width: 1.4}},
    axisTick: {show: true, length: 7, customValues: P.ticks, lineStyle: {color: '#111', width: 1.4}},
    axisLabel: {customValues: P.ticks, margin: 12, fontSize: 22, color: '#000', fontFamily: FONT,
      formatter: v => { let k = 0; P.ticks.forEach((t, j) => { if (Math.abs(t - v) < Math.abs(P.ticks[k] - v)) k = j; }); return P.tickText[k]; }},
    splitLine: {show: false}
  })),
  series: panels.flatMap((P, i) => buildSeries(i, P)),
  graphic: {elements: graphics}
};
chart.setOption(option);
</script>
</body>
</html>
